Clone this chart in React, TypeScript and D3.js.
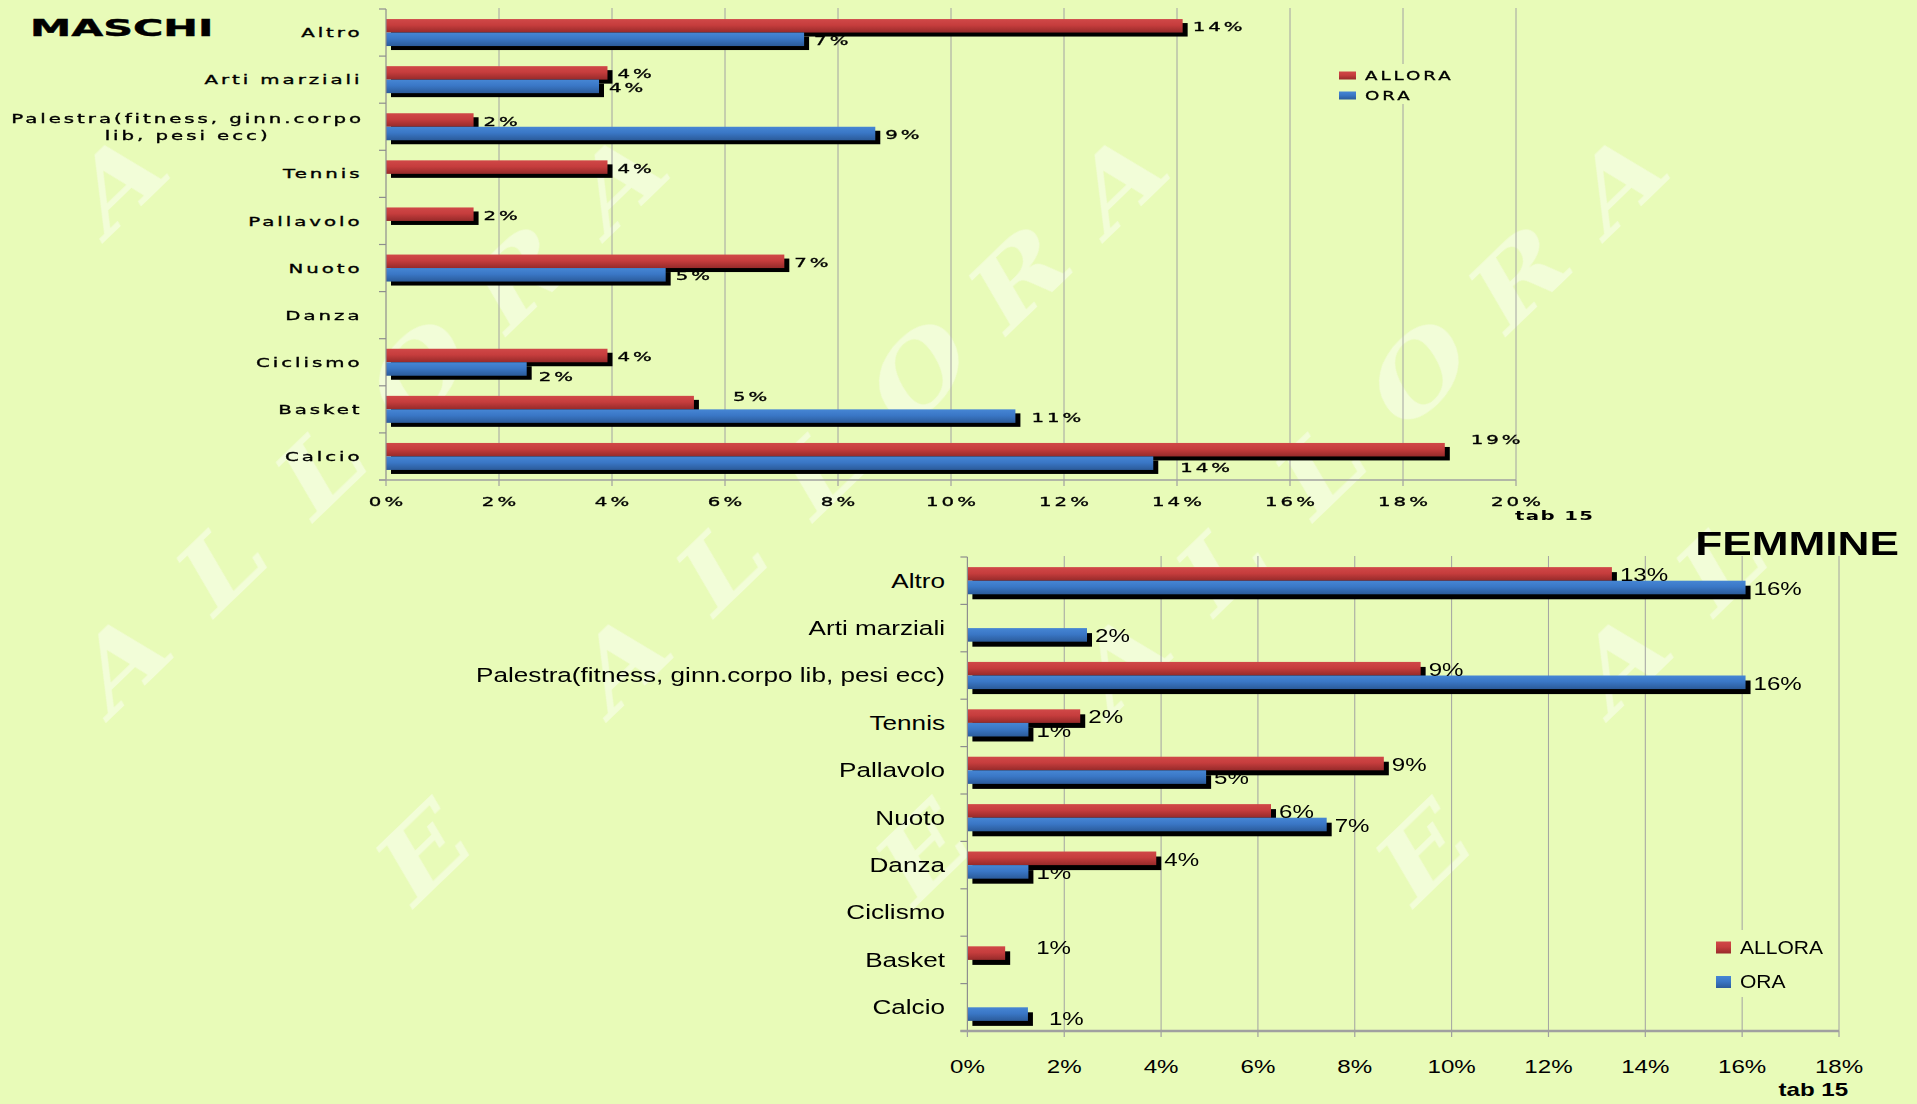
import React, { useEffect, useRef } from "react";
import * as d3 from "d3";

// ---------- DATA ----------
const categories = [
  "Altro",
  "Arti marziali",
  "Palestra(fitness, ginn.corpo lib, pesi ecc)",
  "Tennis",
  "Pallavolo",
  "Nuoto",
  "Danza",
  "Ciclismo",
  "Basket",
  "Calcio",
];
const seriesNames = ["ALLORA", "ORA"];

const maschiAllora: (number | null)[] = [14.1, 3.92, 1.55, 3.92, 1.55, 7.05, null, 3.92, 5.45, 18.74];
const maschiOra: (number | null)[] = [7.4, 3.77, 8.66, null, null, 4.95, null, 2.49, 11.14, 13.58];

const femmineAllora: (number | null)[] = [13.31, null, 9.36, 2.33, 8.6, 6.27, 3.9, null, 0.78, null];
const femmineOra: (number | null)[] = [16.07, 2.47, 16.07, 1.26, 4.93, 7.42, 1.26, null, null, 1.25];

const maschiTicks = [0, 2, 4, 6, 8, 10, 12, 14, 16, 18, 20];
const femmineTicks = [0, 2, 4, 6, 8, 10, 12, 14, 16, 18];

const maschiTitle = "MASCHI";
const femmineTitle = "FEMMINE";
const sourceNote = "tab 15";
const watermarkText = "ORA E ALLORA  ";

// ---------- STYLE / LAYOUT ----------
const W = 1917;
const H = 1104;
const BG = "#e8fbb8";

type Font = { family: string; size: number; k: number; ls: number; weight?: string; stroke?: number };

const topFont: Font = { family: "DejaVu Sans", size: 13, k: 1.52, ls: 1.95, stroke: 0.35 };
const botFont: Font = { family: "Liberation Sans", size: 19.5, k: 1.34, ls: 0 };
const botValFont: Font = { family: "Liberation Sans", size: 18, k: 1.34, ls: 0 };

function stext(parent: any, x: number, y: number, str: string, f: Font, anchor = "start") {
  const t = parent
    .append("text")
    .attr("transform", `translate(${x},${y}) scale(${f.k},1)`)
    .attr("font-family", f.family)
    .attr("font-size", f.size)
    .attr("font-weight", f.weight || "normal")
    .attr("letter-spacing", f.ls)
    .attr("text-anchor", anchor)
    .attr("dy", "0.35em")
    .attr("fill", "#000")
    .text(str);
  if (f.stroke) t.attr("stroke", "#000").attr("stroke-width", f.stroke);
  return t;
}

type Panel = {
  x0: number;
  x1: number;
  max: number;
  ticks: number[];
  top: number;
  bottom: number;
  shadow: [number, number];
  catFont: Font;
  valFont: Font;
  tickFont: Font;
  catRight: number;
  wrapWidth: number;
  lineHeight: number;
  tickLabelY: number;
  valGap: number;
  axisWidth: number;
  nudges: Record<string, [number, number]>;
};

function drawPanel(svg: any, p: Panel, allora: (number | null)[], ora: (number | null)[]) {
  const g = svg.append("g");
  const x = d3.scaleLinear().domain([0, p.max]).range([p.x0, p.x1]);
  const y = d3.scaleBand<string>().domain(categories).range([p.top, p.bottom]).padding(0);
  const ys = d3
    .scaleBand<string>()
    .domain(seriesNames)
    .range([0, y.bandwidth()])
    .paddingInner(0)
    .paddingOuter(0.745);

  g.selectAll("line.grid")
    .data(p.ticks.slice(1))
    .join("line")
    .attr("x1", (d: number) => x(d))
    .attr("x2", (d: number) => x(d))
    .attr("y1", p.top - 1)
    .attr("y2", p.bottom)
    .attr("stroke", "#a2a2a2")
    .attr("stroke-width", 1);

  type Bar = { c: string; s: string; v: number; si: number };
  const bars: Bar[] = [];
  categories.forEach((c, i) => {
    [allora, ora].forEach((arr, si) => {
      const v = arr[i];
      if (v != null) bars.push({ c, s: seriesNames[si], v, si });
    });
  });

  g.selectAll("rect.sh")
    .data(bars)
    .join("rect")
    .attr("x", x(0) + p.shadow[0])
    .attr("y", (d: Bar) => (y(d.c) as number) + (ys(d.s) as number) + p.shadow[1])
    .attr("width", (d: Bar) => x(d.v) - x(0))
    .attr("height", ys.bandwidth())
    .attr("fill", "#000");

  g.selectAll("rect.bar")
    .data(bars)
    .join("rect")
    .attr("x", x(0))
    .attr("y", (d: Bar) => (y(d.c) as number) + (ys(d.s) as number))
    .attr("width", (d: Bar) => x(d.v) - x(0))
    .attr("height", ys.bandwidth())
    .attr("fill", (d: Bar) => (d.si === 0 ? "url(#gRed)" : "url(#gBlue)"));

  g.append("line")
    .attr("x1", x(0))
    .attr("x2", x(0))
    .attr("y1", p.top)
    .attr("y2", p.bottom)
    .attr("stroke", "#8e8e8e")
    .attr("stroke-width", 1.2);
  const bounds = categories.map((c) => y(c) as number).concat([p.bottom]);
  g.selectAll("line.ct")
    .data(bounds)
    .join("line")
    .attr("x1", x(0) - 7)
    .attr("x2", x(0))
    .attr("y1", (d: number) => d)
    .attr("y2", (d: number) => d)
    .attr("stroke", "#8e8e8e")
    .attr("stroke-width", 1.2);

  g.append("line")
    .attr("x1", x(0) - 7)
    .attr("x2", x(p.max))
    .attr("y1", p.bottom)
    .attr("y2", p.bottom)
    .attr("stroke", "#a0a0a0")
    .attr("stroke-width", p.axisWidth);
  g.selectAll("line.xt")
    .data(p.ticks)
    .join("line")
    .attr("x1", (d: number) => x(d))
    .attr("x2", (d: number) => x(d))
    .attr("y1", p.bottom)
    .attr("y2", p.bottom + 6)
    .attr("stroke", "#a0a0a0")
    .attr("stroke-width", 1.2);

  p.ticks.forEach((t) => {
    stext(g, x(t) + (p.tickFont.ls * p.tickFont.k) / 2, p.tickLabelY, `${t}%`, p.tickFont, "middle");
  });

  const measure = (s: string) => {
    const t = stext(g, 0, 0, s, p.catFont, "start");
    const w = (t.node() as SVGTextElement).getComputedTextLength() * p.catFont.k;
    t.remove();
    return w;
  };

  categories.forEach((c) => {
    const cy = (y(c) as number) + y.bandwidth() / 2;
    if (measure(c) <= p.wrapWidth) {
      stext(g, p.catRight, cy, c, p.catFont, "end");
      return;
    }
    const words = c.split(" ");
    const lines: string[] = [];
    let cur = "";
    words.forEach((w) => {
      const cand = cur ? cur + " " + w : w;
      if (cur && measure(cand) > p.wrapWidth) {
        lines.push(cur);
        cur = w;
      } else cur = cand;
    });
    if (cur) lines.push(cur);
    const maxW = d3.max(lines, (l) => measure(l)) as number;
    const cx = p.catRight - maxW / 2;
    lines.forEach((l, i) => {
      const ly = cy + (i - (lines.length - 1) / 2) * p.lineHeight;
      stext(g, cx + (p.catFont.ls * p.catFont.k) / 2, ly, l, p.catFont, "middle");
    });
  });

  bars.forEach((d) => {
    const cy = (y(d.c) as number) + (ys(d.s) as number) + ys.bandwidth() / 2 + 1;
    const n = p.nudges[`${d.c}|${d.s}`] || [0, 0];
    stext(g, x(d.v) + p.valGap + n[0], cy + n[1], `${Math.round(d.v)}%`, p.valFont, "start");
  });
}

function App() {
  const ref = useRef<SVGSVGElement>(null);

  useEffect(() => {
    const svg = d3.select(ref.current);
    svg.selectAll("*").remove();

    const defs = svg.append("defs");
    const mkGrad = (id: string, stops: [string, string][]) => {
      const lg = defs.append("linearGradient").attr("id", id).attr("x1", 0).attr("y1", 0).attr("x2", 0).attr("y2", 1);
      stops.forEach(([o, c]) => lg.append("stop").attr("offset", o).attr("stop-color", c));
    };
    mkGrad("gRed", [
      ["0%", "#d04848"],
      ["45%", "#c63d3d"],
      ["100%", "#962a2a"],
    ]);
    mkGrad("gBlue", [
      ["0%", "#4686d4"],
      ["45%", "#3a77c6"],
      ["100%", "#2b5b9a"],
    ]);

    svg.append("rect").attr("width", W).attr("height", H).attr("fill", BG);

    // watermark: individual letters laid along diagonal lines, kept inside the page
    const wm = svg.append("g").attr("opacity", 0.45).attr("fill", "#ffffff");
    const ang = (-44 * Math.PI) / 180;
    const ux = Math.cos(ang);
    const uy = Math.sin(ang);
    const step = 138;
    for (let r = 0; r < 9; r++) {
      const sx = -950 + r * 500;
      const sy = 1260;
      for (let i = 0; i < 40; i++) {
        const ch = watermarkText[i % watermarkText.length];
        if (ch === " ") continue;
        const px = sx + ux * i * step;
        const py = sy + uy * i * step;
        if (px < 90 || px > W - 110 || py < 120 || py > H - 70) continue;
        wm.append("text")
          .attr("transform", `translate(${px},${py}) rotate(-44) scale(1.25,1)`)
          .attr("text-anchor", "middle")
          .attr("font-family", "DejaVu Serif")
          .attr("font-weight", "bold")
          .attr("font-style", "italic")
          .attr("font-size", 95)
          .text(ch);
      }
    }

    drawPanel(
      svg,
      {
        x0: 386,
        x1: 1516,
        max: 20,
        ticks: maschiTicks,
        top: 9,
        bottom: 480,
        shadow: [5, 4],
        catFont: topFont,
        valFont: topFont,
        tickFont: topFont,
        catRight: 362.5,
        wrapWidth: 360,
        lineHeight: 17,
        tickLabelY: 501.5,
        valGap: 10,
        axisWidth: 1.5,
        nudges: {
          "Basket|ALLORA": [29, -7],
          "Calcio|ALLORA": [16, -11],
          "Calcio|ORA": [17, 3],
          "Ciclismo|ORA": [2, 6],
          "Basket|ORA": [6, 0],
        },
      },
      maschiAllora,
      maschiOra
    );

    drawPanel(
      svg,
      {
        x0: 967.4,
        x1: 1839,
        max: 18,
        ticks: femmineTicks,
        top: 557,
        bottom: 1031,
        shadow: [5, 5],
        catFont: botFont,
        valFont: botValFont,
        tickFont: botValFont,
        catRight: 945,
        wrapWidth: 2000,
        lineHeight: 22,
        tickLabelY: 1066.5,
        valGap: 8,
        axisWidth: 2.5,
        nudges: {
          "Basket|ALLORA": [23, -6],
          "Calcio|ORA": [13, 4],
        },
      },
      femmineAllora,
      femmineOra
    );

    stext(svg, 30, 28, maschiTitle, { family: "DejaVu Sans", size: 23, k: 1.8, ls: 0, weight: "bold", stroke: 0.4 });
    stext(svg, 1899, 543, femmineTitle, { family: "Liberation Sans", size: 34, k: 1.3, ls: 0, weight: "bold" }, "end");

    stext(svg, 1515, 515.5, sourceNote, { family: "DejaVu Sans", size: 13, k: 1.52, ls: 0.9, weight: "bold" });
    stext(svg, 1778.5, 1090, sourceNote, { family: "Liberation Sans", size: 18, k: 1.34, ls: 0, weight: "bold" });

    const legend = (
      bx: number,
      by: number,
      bw: number,
      bh: number,
      sx: number,
      sw: number,
      sh: number,
      tx: number,
      rows: number[],
      f: Font
    ) => {
      svg.append("rect").attr("x", bx).attr("y", by).attr("width", bw).attr("height", bh).attr("fill", BG);
      seriesNames.forEach((s, i) => {
        svg
          .append("rect")
          .attr("x", sx)
          .attr("y", rows[i] - sh / 2)
          .attr("width", sw)
          .attr("height", sh)
          .attr("fill", i === 0 ? "url(#gRed)" : "url(#gBlue)");
        stext(svg, tx, rows[i], s, f);
      });
    };
    legend(1332, 64, 134, 40, 1339, 17, 8, 1365, [75.5, 95.5], {
      family: "DejaVu Sans",
      size: 12,
      k: 1.52,
      ls: 1.95,
      stroke: 0.3,
    });
    legend(1708, 930, 127, 67, 1716, 15, 12, 1740, [947.5, 982], { family: "Liberation Sans", size: 18, k: 1.17, ls: 0 });
  }, []);

  return (
    <svg
      ref={ref}
      width={W}
      height={H}
      style={{ position: "absolute", left: 0, top: 0, display: "block" }}
    />
  );
}

export default App;
